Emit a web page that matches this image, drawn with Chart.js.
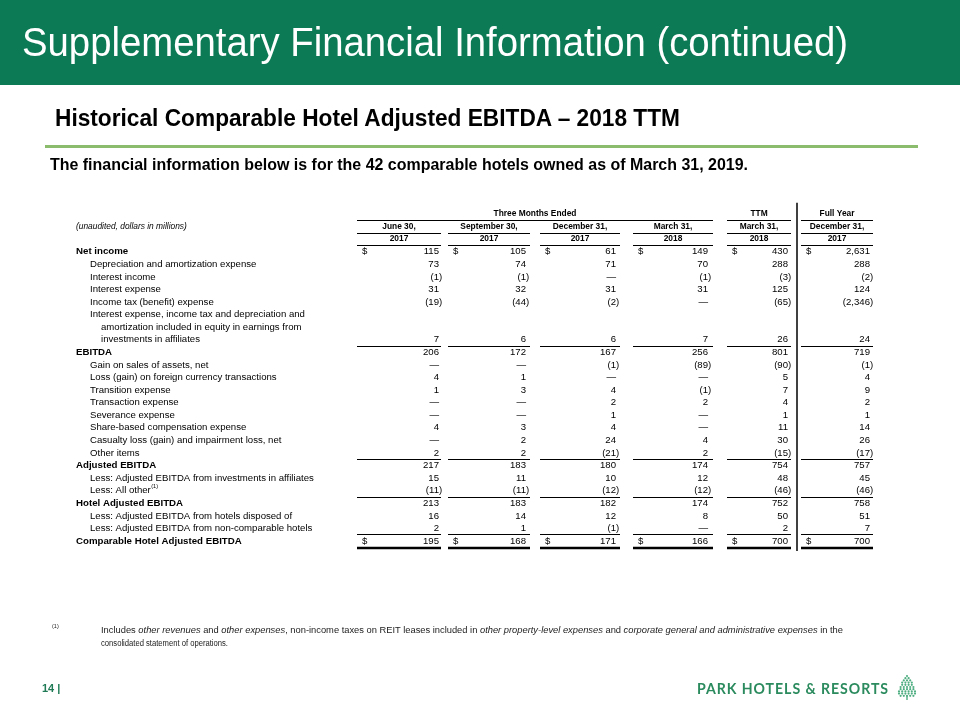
<!DOCTYPE html>
<html><head><meta charset="utf-8">
<script src="https://cdn.jsdelivr.net/npm/chart.js@4.4.1/dist/chart.umd.min.js"></script>
<style>
html,body{margin:0;padding:0;background:#fff;}
#page{position:relative;width:960px;height:720px;overflow:hidden;font-family:"Liberation Sans",Arial,sans-serif;}
#band{position:absolute;left:0;top:0;width:960px;height:85px;background:#0b7a55;}
#rule{position:absolute;left:45px;top:145px;width:873px;height:3px;background:#8bbb6c;}
.t{position:absolute;white-space:nowrap;line-height:1;transform-origin:0 0;}
#c{position:absolute;left:0;top:0;}
</style></head><body>
<div id="page">
<div id="band"></div>
<div id="rule"></div>
<canvas id="c" width="960" height="720"></canvas>
<div class="t" data-w="826" style="left:22px;top:22px;font-size:41px;color:#fff;">Supplementary Financial Information (continued)</div>
<div class="t" data-w="625" style="left:55px;top:106px;font-size:24.5px;font-weight:bold;color:#000;">Historical Comparable Hotel Adjusted EBITDA – 2018 TTM</div>
<div class="t" data-w="698" style="left:50px;top:157px;font-size:16px;font-weight:bold;color:#000;">The financial information below is for the 42 comparable hotels owned as of March 31, 2019.</div>
<div class="t" style="left:52px;top:624px;font-size:5.5px;color:#222;">(1)</div>
<div class="t" data-w="742" style="left:101px;top:625px;font-size:9.6px;color:#222;">Includes <i>other revenues</i> and <i>other expenses</i>, non-income taxes on REIT leases included in <i>other property-level expenses</i> and <i>corporate general and administrative expenses</i> in the</div>
<div class="t" data-w="127" style="left:101px;top:638px;font-size:9.6px;color:#222;">consolidated statement of operations.</div>
<div class="t" style="left:42px;top:683px;font-size:11px;font-weight:bold;color:#1f7a55;">14 |</div>
<div class="t" data-w="192" style="left:697px;top:681px;font-size:15px;font-family:Lato,'Open Sans',sans-serif;font-weight:bold;letter-spacing:1px;color:#2b8b5e;">PARK HOTELS &amp; RESORTS</div>
<svg id="tree" style="position:absolute;left:896px;top:674px;" width="22" height="26"></svg>
</div>
<script>
// ---------- data ----------
const COLUMN_GROUPS = ['Three Months Ended', 'TTM', 'Full Year'];
const COLUMN_DATES = ['June 30,', 'September 30,', 'December 31,', 'March 31,', 'March 31,', 'December 31,'];
const COLUMN_YEARS = ['2017', '2017', '2017', '2018', '2018', '2017'];
const UNITS_NOTE = '(unaudited, dollars in millions)';

const ROW_LABELS = [
  'Net income',
  'Depreciation and amortization expense',
  'Interest income',
  'Interest expense',
  'Income tax (benefit) expense',
  'Interest expense, income tax and depreciation and',
  'amortization included in equity in earnings from',
  'investments in affiliates',
  'EBITDA',
  'Gain on sales of assets, net',
  'Loss (gain) on foreign currency transactions',
  'Transition expense',
  'Transaction expense',
  'Severance expense',
  'Share-based compensation expense',
  'Casualty loss (gain) and impairment loss, net',
  'Other items',
  'Adjusted EBITDA',
  'Less: Adjusted EBITDA from investments in affiliates',
  'Less: All other',
  'Hotel Adjusted EBITDA',
  'Less: Adjusted EBITDA from hotels disposed of',
  'Less: Adjusted EBITDA from non-comparable hotels',
  'Comparable Hotel Adjusted EBITDA'
];
// null = "—" (nil), NA = blank cell
const NA = undefined;
const Q_JUN_2017 = [115, 73, -1, 31, -19, NA, NA, 7, 206, null, 4, 1, null, null, 4, null, 2, 217, 15, -11, 213, 16, 2, 195];
const Q_SEP_2017 = [105, 74, -1, 32, -44, NA, NA, 6, 172, null, 1, 3, null, null, 3, 2, 2, 183, 11, -11, 183, 14, 1, 168];
const Q_DEC_2017 = [61, 71, null, 31, -2, NA, NA, 6, 167, -1, null, 4, 2, 1, 4, 24, -21, 180, 10, -12, 182, 12, -1, 171];
const Q_MAR_2018 = [149, 70, -1, 31, null, NA, NA, 7, 256, -89, null, -1, 2, null, null, 4, 2, 174, 12, -12, 174, 8, null, 166];
const TTM_MAR_2018 = [430, 288, -3, 125, -65, NA, NA, 26, 801, -90, 5, 7, 4, 1, 11, 30, -15, 754, 48, -46, 752, 50, 2, 700];
const FY_2017 = [2631, 288, -2, 124, -2346, NA, NA, 24, 719, -1, 4, 9, 2, 1, 14, 26, -17, 757, 45, -46, 758, 51, 7, 700];
const SERIES = [Q_JUN_2017, Q_SEP_2017, Q_DEC_2017, Q_MAR_2018, TTM_MAR_2018, FY_2017];

// ---------- layout / style (not data) ----------
const ROW_LEVEL = [0,1,1,1,1,1,2,2,0,1,1,1,1,1,1,1,1,0,1,1,0,1,1,0];
const DOLLAR_ROWS = [0, 23];
const UNDERLINE_ROWS = [7, 16, 19, 22];
const DOUBLE_ROWS = [23];
const FOOTNOTE_ROWS = {19: '(1)'};
const LEVEL_X = [76, 90, 101];
const COL_LEFT = [357, 448, 540, 633, 727, 801];
const COL_LINE_RIGHT = [441, 530, 620, 713, 791, 873];
const COL_NUM_RIGHT = [439, 526, 616, 708, 788, 870];
const GROUP_SPAN = [[0, 3], [4, 4], [5, 5]];
const HEAD_ROWS = 3;
const DIVIDER_X = 797;
const FONT = '"Liberation Sans", Arial, sans-serif';

function fmt(v) {
  if (v === null) return '\u2014';
  const s = Math.abs(v).toLocaleString('en-US');
  return v < 0 ? '(' + s : s;
}

const datasets = SERIES.map((arr, ci) => ({
  label: COLUMN_DATES[ci] + ' ' + COLUMN_YEARS[ci],
  data: arr.map((v, ri) => ({ x: COL_NUM_RIGHT[ci], y: ri + HEAD_ROWS, v: v, r: ri }))
           .filter(p => p.v !== undefined),
  pointRadius: 0,
  showLine: false
}));

const tablePlugin = {
  id: 'tableCells',
  afterDatasetsDraw(chart) {
    const ctx = chart.ctx, xs = chart.scales.x, ys = chart.scales.y;
    const X = v => xs.getPixelForValue(v);
    const Y = r => ys.getPixelForValue(r);
    ctx.save();
    ctx.fillStyle = '#000';
    ctx.strokeStyle = '#000';
    ctx.textBaseline = 'middle';
    const hline = (x1, x2, y, w) => {
      ctx.lineWidth = w || 1;
      ctx.beginPath(); ctx.moveTo(x1, y); ctx.lineTo(x2, y); ctx.stroke();
    };
    // header: group row
    ctx.font = 'bold 8.4px ' + FONT;
    ctx.textAlign = 'center';
    GROUP_SPAN.forEach((g, gi) => {
      const l = X(COL_LEFT[g[0]]), r = X(COL_LINE_RIGHT[g[1]]);
      ctx.fillText(COLUMN_GROUPS[gi], (l + r) / 2, Y(0));
      hline(l, r, Math.round(Y(0) + 6) + 0.5);
    });
    // date and year rows
    COLUMN_DATES.forEach((d, ci) => {
      const l = X(COL_LEFT[ci]), r = X(COL_LINE_RIGHT[ci]);
      ctx.fillText(d, (l + r) / 2, Y(1));
      hline(l, r, Math.round(Y(1) + 6) + 0.5);
      ctx.fillText(COLUMN_YEARS[ci], (l + r) / 2, Y(2));
      hline(l, r, Math.round(Y(2) + 6) + 0.5);
    });
    ctx.textAlign = 'left';
    ctx.font = 'italic 8.4px ' + FONT;
    ctx.fillText(UNITS_NOTE, X(LEVEL_X[0]), Y(1));
    // row labels
    ROW_LABELS.forEach((lab, ri) => {
      const lv = ROW_LEVEL[ri];
      ctx.font = (lv === 0 ? 'bold 9.7px ' : '9.6px ') + FONT;
      const px = X(LEVEL_X[lv]), py = Y(ri + HEAD_ROWS);
      ctx.fillText(lab, px, py);
      if (FOOTNOTE_ROWS[ri]) {
        const w = ctx.measureText(lab).width;
        ctx.font = '5.5px ' + FONT;
        ctx.fillText(FOOTNOTE_ROWS[ri], px + w + 0.5, py - 4);
      }
    });
    // cells
    ctx.font = '9.6px ' + FONT;
    chart.data.datasets.forEach((ds, ci) => {
      const meta = chart.getDatasetMeta(ci);
      meta.data.forEach((el, i) => {
        const p = ds.data[i];
        ctx.textAlign = 'right';
        ctx.fillText(fmt(p.v), el.x, el.y);
        if (p.v !== null && p.v < 0) { ctx.textAlign = 'left'; ctx.fillText(')', el.x, el.y); }
        if (DOLLAR_ROWS.includes(p.r)) { ctx.textAlign = 'left'; ctx.fillText('$', X(COL_LEFT[ci]) + 5, el.y); }
        const l = X(COL_LEFT[ci]), r = X(COL_LINE_RIGHT[ci]);
        if (UNDERLINE_ROWS.includes(p.r)) hline(l, r, Math.round(el.y + 6) + 0.5);
        if (DOUBLE_ROWS.includes(p.r)) hline(l, r, Math.round(el.y + 7), 2.5);
      });
    });
    // divider
    ctx.lineWidth = 1.5;
    ctx.beginPath();
    ctx.moveTo(X(DIVIDER_X), Y(-0.9));
    ctx.lineTo(X(DIVIDER_X), Y(HEAD_ROWS + ROW_LABELS.length - 1) + 10);
    ctx.stroke();
    ctx.restore();
  }
};

new Chart(document.getElementById('c'), {
  type: 'scatter',
  data: { datasets },
  options: {
    responsive: false,
    animation: false,
    events: [],
    layout: { padding: { top: 207.7, bottom: 172.7, left: 0, right: 0 } },
    plugins: { legend: { display: false }, tooltip: { enabled: false } },
    scales: {
      x: { type: 'linear', min: 0, max: 960, display: false },
      y: { type: 'linear', min: -0.5, max: HEAD_ROWS + ROW_LABELS.length - 0.5, reverse: true, display: false }
    }
  },
  plugins: [tablePlugin]
});

// fit slide texts to measured widths
document.querySelectorAll('[data-w]').forEach(el => {
  const w = el.getBoundingClientRect().width;
  el.style.transform = 'scaleX(' + (+el.dataset.w / w) + ')';
});

// decorative tree mark
(function () {
  const svg = document.getElementById('tree');
  const rows = [1, 2, 3, 4, 4, 5, 5, 6, 6, 5];
  let out = '';
  rows.forEach((n, r) => {
    for (let k = 0; k < n; k++) {
      const cx = 11 + (k - (n - 1) / 2) * 3.2, cy = 2 + r * 2.2;
      out += '<circle cx="' + cx + '" cy="' + cy + '" r="1.1" fill="#4fae82"/>';
    }
  });
  out += '<rect x="10.3" y="22" width="1.4" height="4" fill="#4fae82"/>';
  svg.innerHTML = out;
})();
</script>
</body></html>
